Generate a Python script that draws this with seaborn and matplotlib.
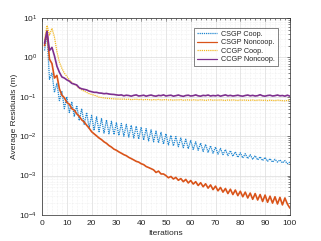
import numpy as np
import matplotlib
matplotlib.use("Agg")
import matplotlib.pyplot as plt
import matplotlib.ticker as mticker
import seaborn as sns

sns.set_theme(style="white")
plt.rcParams['font.family'] = ['Liberation Sans', 'DejaVu Sans']

iters = list(range(1, 101))

csgp_coop = [
    1.5, 4.0, 0.28, 0.4, 0.13, 0.22, 0.08, 0.14, 0.05, 0.1,
    0.04, 0.075, 0.032, 0.06, 0.025, 0.05, 0.02, 0.04, 0.016, 0.034,
    0.014, 0.031, 0.013, 0.028, 0.012, 0.026, 0.0115, 0.024, 0.011, 0.022,
    0.0105, 0.021, 0.01, 0.02, 0.0095, 0.019, 0.009, 0.018, 0.0085, 0.017,
    0.008, 0.0155, 0.0076, 0.0145, 0.0072, 0.0135, 0.0068, 0.0125, 0.0063, 0.0115,
    0.006, 0.0105, 0.0057, 0.0098, 0.0054, 0.009, 0.0051, 0.0084, 0.0048, 0.0078,
    0.0046, 0.0072, 0.0044, 0.0067, 0.0041, 0.0062, 0.0039, 0.0057, 0.0037, 0.0053,
    0.0035, 0.0049, 0.0034, 0.0046, 0.0032, 0.0043, 0.0031, 0.004, 0.0029, 0.0038,
    0.0028, 0.0036, 0.0027, 0.0034, 0.0026, 0.0032, 0.0025, 0.003, 0.0024, 0.0029,
    0.0023, 0.0027, 0.0022, 0.0026, 0.0022, 0.0025, 0.0021, 0.0024, 0.002, 0.0022,
]

csgp_noncoop = [
    2.0, 4.8, 0.9, 0.7, 0.3, 0.35, 0.16, 0.11, 0.095, 0.072,
    0.065, 0.05, 0.046, 0.037, 0.032, 0.026, 0.023, 0.019, 0.016, 0.013,
    0.0115, 0.0102, 0.009, 0.0082, 0.0072, 0.0066, 0.0058, 0.0053, 0.0047, 0.0044,
    0.004, 0.0037, 0.0034, 0.0032, 0.0029, 0.0027, 0.0025, 0.0023, 0.0022, 0.002,
    0.0019, 0.0017, 0.0016, 0.0015, 0.0014, 0.0012, 0.0013, 0.0011, 0.0011, 0.001,
    0.00088, 0.00095, 0.00082, 0.0009, 0.00076, 0.00084, 0.0007, 0.0008, 0.00065, 0.00075,
    0.00061, 0.0007, 0.00056, 0.00066, 0.00052, 0.00062, 0.00048, 0.00058, 0.00044, 0.00054,
    0.00041, 0.0005, 0.00038, 0.00047, 0.00035, 0.00045, 0.00033, 0.00043, 0.00031, 0.0004,
    0.00029, 0.00038, 0.00027, 0.00036, 0.00025, 0.00035, 0.00024, 0.00033, 0.00022, 0.00032,
    0.00021, 0.0003, 0.0002, 0.00029, 0.00019, 0.00028, 0.00018, 0.00027, 0.00019, 0.00015,
]

ccgp_coop = [
    2.8, 6.5, 3.7, 5.5, 3.3, 1.4, 0.76, 0.53, 0.4, 0.33,
    0.27, 0.23, 0.21, 0.19, 0.165, 0.15, 0.14, 0.13, 0.12, 0.115,
    0.11, 0.105, 0.098, 0.096, 0.094, 0.092, 0.091, 0.09, 0.089, 0.088,
    0.088, 0.087, 0.088, 0.086, 0.087, 0.085, 0.086, 0.087, 0.085, 0.086,
    0.084, 0.086, 0.085, 0.083, 0.085, 0.084, 0.086, 0.083, 0.084, 0.085,
    0.083, 0.084, 0.082, 0.084, 0.083, 0.085, 0.082, 0.083, 0.084, 0.082,
    0.084, 0.083, 0.082, 0.084, 0.083, 0.081, 0.083, 0.084, 0.082, 0.083,
    0.082, 0.084, 0.082, 0.081, 0.083, 0.082, 0.084, 0.082, 0.081, 0.083,
    0.082, 0.083, 0.081, 0.082, 0.083, 0.081, 0.082, 0.083, 0.081, 0.082,
    0.08, 0.082, 0.081, 0.08, 0.082, 0.081, 0.08, 0.079, 0.081, 0.084,
]

ccgp_noncoop = [
    2.3, 4.6, 1.5, 1.8, 1.1, 0.6, 0.42, 0.32, 0.3, 0.27,
    0.25, 0.22, 0.21, 0.2, 0.17, 0.16, 0.155, 0.15, 0.14, 0.135,
    0.13, 0.13, 0.125, 0.124, 0.12, 0.122, 0.118, 0.116, 0.115, 0.112,
    0.11, 0.112, 0.106, 0.11, 0.108, 0.104, 0.109, 0.112, 0.105, 0.107,
    0.11, 0.104, 0.108, 0.111, 0.106, 0.104, 0.109, 0.107, 0.112, 0.105,
    0.108, 0.11, 0.104, 0.107, 0.111, 0.106, 0.103, 0.108, 0.11, 0.105,
    0.107, 0.112, 0.106, 0.104, 0.109, 0.107, 0.111, 0.105, 0.108, 0.106,
    0.11, 0.104, 0.108, 0.112, 0.106, 0.109, 0.105, 0.107, 0.11, 0.106,
    0.104, 0.108, 0.111, 0.106, 0.109, 0.105, 0.107, 0.113, 0.106, 0.104,
    0.108, 0.11, 0.105, 0.107, 0.111, 0.106, 0.108, 0.104, 0.11, 0.104,
]

# name, values, colour, line style, width
series = [
    ("CSGP Coop.", csgp_coop, "#1f86d0", (0, (1.0, 0.7)), 0.9),
    ("CSGP Noncoop.", csgp_noncoop, "#D95319", "-", 1.2),
    ("CCGP Coop.", ccgp_coop, "#F2B824", (0, (1.0, 0.7)), 0.9),
    ("CCGP Noncoop.", ccgp_noncoop, "#7E2F8E", "-", 1.2),
]

fig = plt.figure(figsize=(3.21, 2.41), dpi=100)
ax = fig.add_axes([0.131, 0.108, 0.772, 0.817])

for name, vals, col, ls, w in series:
    sns.lineplot(x=iters, y=vals, ax=ax, color=col, linestyle=ls, lw=w, label=name)

ax.set_yscale('log')
ax.set_xlim(0, 100)
ax.set_ylim(1e-4, 1e1)
ax.set_xticks(range(0, 101, 10))
ax.xaxis.set_minor_locator(mticker.MultipleLocator(2))
ax.yaxis.set_major_locator(mticker.LogLocator(base=10, numticks=10))
ax.yaxis.set_minor_locator(mticker.LogLocator(base=10, subs=np.arange(2, 10), numticks=20))
ax.yaxis.set_minor_formatter(mticker.NullFormatter())

ax.grid(which='major', color='#dcdcdc', lw=0.5, ls='-')
ax.grid(which='minor', color='#e4e4e4', lw=0.4, ls=':')
ax.set_axisbelow(True)

ax.tick_params(axis='both', which='both', direction='in', top=True, right=True,
               labelsize=6, colors='#262626', width=0.4)
ax.tick_params(which='major', length=2.5)
ax.tick_params(which='minor', length=1.3)
for sp in ax.spines.values():
    sp.set_color('#262626')
    sp.set_linewidth(0.5)

ax.set_xlabel('Iterations', fontsize=6, color='#262626', labelpad=2)
ax.set_ylabel('Average Residuals (m)', fontsize=6, color='#262626', labelpad=1)

leg = ax.legend(loc='upper right', fontsize=5.2, frameon=True, fancybox=False,
                edgecolor='#262626', borderpad=0.4, handlelength=2.8,
                handletextpad=0.5, labelspacing=0.2, bbox_to_anchor=(0.965, 0.97))
leg.get_frame().set_linewidth(0.5)
for ln in leg.get_lines():
    ln.set_linewidth(0.9)

fig.savefig('out.png', dpi=100)
